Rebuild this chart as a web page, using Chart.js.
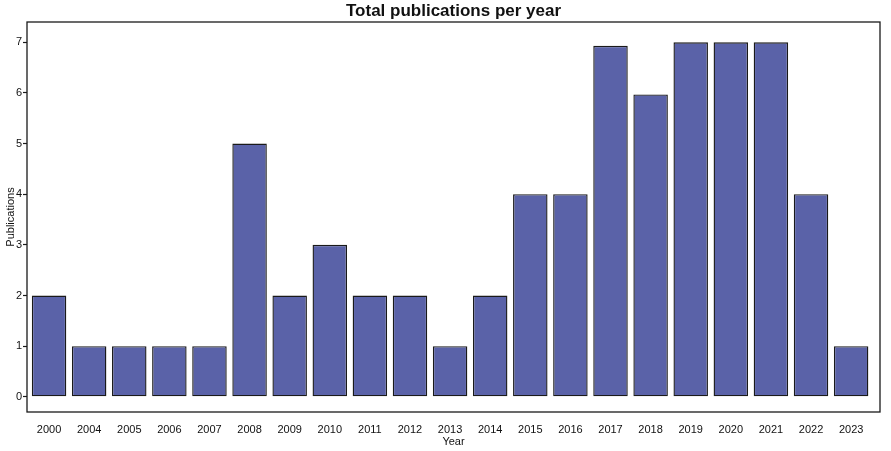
<!DOCTYPE html>
<html>
<head>
<meta charset="utf-8">
<script src="https://cdn.jsdelivr.net/npm/chart.js@4"></script>
<style>
html,body{margin:0;padding:0;background:#fff;}
#wrap{width:891px;height:451px;}
</style>
</head>
<body>
<div id="wrap"><canvas id="c" width="891" height="451"></canvas></div>
<script>
const years = ["2000","2004","2005","2006","2007","2008","2009","2010","2011","2012","2013","2014","2015","2016","2017","2018","2019","2020","2021","2022","2023"];
const publications = [2,1,1,1,1,5,2,3,2,2,1,2,4,4,6.93,5.97,7,7,7,4,1];
const yTicks = [0,1,2,3,4,5,6,7];

const boxPlugin = {
  id:'box',
  afterDatasetsDraw(chart){
    const a = chart.chartArea, ctx = chart.ctx;
    ctx.save();
    ctx.strokeStyle = '#1a1a1a';
    ctx.lineWidth = 1.3;
    ctx.strokeRect(a.left, a.top, a.right - a.left, a.bottom - a.top);
    ctx.restore();
  }
};

new Chart(document.getElementById('c'), {
  type:'bar',
  data:{
    datasets:[{
      data: years.map((y,i)=>({x:i, y:publications[i]})),
      backgroundColor:'#5A62A8',
      borderColor:'#1a1a1a',
      borderWidth:1.4,
      borderSkipped:false,
      barPercentage:0.86,
      categoryPercentage:1
    }]
  },
  options:{
    responsive:false,
    animation:false,
    devicePixelRatio:1,
    layout:{padding:{left:0,right:11,top:0,bottom:0}},
    plugins:{
      legend:{display:false},
      tooltip:{enabled:false},
      title:{
        display:true,
        text:'Total publications per year',
        fullSize:false,
        color:'#111',
        font:{family:'Liberation Sans, Arial, sans-serif',size:17,weight:'bold',lineHeight:1},
        padding:{top:3,bottom:2}
      }
    },
    scales:{
      x:{
        type:'linear',
        offset:false,
        min:-0.55,
        max:20.72,
        grid:{display:false,drawTicks:false},
        border:{display:false},
        afterBuildTicks(scale){ scale.ticks = years.map((y,i)=>({value:i})); },
        ticks:{
          autoSkip:false,
          maxRotation:0,
          padding:11,
          color:'#111',
          font:{family:'Liberation Sans, Arial, sans-serif',size:11},
          callback:(v)=>years[v] ?? ''
        },
        title:{display:true,text:'Year',color:'#111',padding:{top:0,bottom:2},
          font:{family:'Liberation Sans, Arial, sans-serif',size:11}},
        afterFit(scale){ scale.height = 39; }
      },
      y:{
        min:-0.30,
        max:7.40,
        afterBuildTicks(scale){ scale.ticks = yTicks.map(v=>({value:v})); },
        grid:{display:true,drawOnChartArea:false,drawTicks:true,tickLength:4,color:'#1a1a1a',tickWidth:1.2},
        border:{display:false},
        ticks:{padding:1,color:'#111',font:{family:'Liberation Sans, Arial, sans-serif',size:11}},
        title:{display:true,text:'Publications',color:'#111',padding:{top:4,bottom:0},
          font:{family:'Liberation Sans, Arial, sans-serif',size:11}},
        afterFit(scale){ scale.width = 27; }
      }
    }
  },
  plugins:[boxPlugin]
});
</script>
</body>
</html>
